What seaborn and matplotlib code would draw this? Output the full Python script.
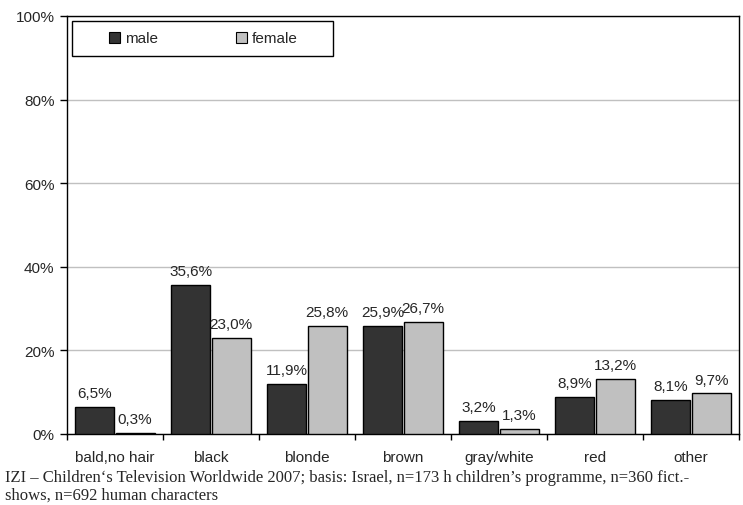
import matplotlib
matplotlib.use("Agg")
import matplotlib.pyplot as plt
import matplotlib.patches as mpatches
import seaborn as sns
import pandas as pd

categories = ["bald,no hair", "black", "blonde", "brown", "gray/white", "red", "other"]
male = [6.5, 35.6, 11.9, 25.9, 3.2, 8.9, 8.1]
female = [0.3, 23.0, 25.8, 26.7, 1.3, 13.2, 9.7]
series = ["male", "female"]
colors = {"male": "#333333", "female": "#c0c0c0"}
yticks = [0, 20, 40, 60, 80, 100]
caption_lines = [
    "IZI \u2013 Children\u2018s Television Worldwide 2007; basis: Israel, n=173 h children\u2019s programme, n=360 fict.-",
    "shows, n=692 human characters",
]

df = pd.DataFrame({
    "category": categories * 2,
    "value": male + female,
    "gender": ["male"] * len(categories) + ["female"] * len(categories),
})

sns.set_theme(style="white")
plt.rcParams['font.family'] = ['Liberation Sans', 'DejaVu Sans']
FS = 11

fig = plt.figure(figsize=(7.43, 5.06), dpi=100)
ax = fig.add_axes([67/743, 1 - 435/506, 672/743, 418/506])

sns.barplot(data=df, x="category", y="value", hue="gender", hue_order=series,
            order=categories, palette=colors, width=0.84, gap=0.04,
            edgecolor="black", linewidth=1.0, ax=ax, zorder=3)

ax.set_xlim(-0.5, len(categories) - 0.5)
ax.set_ylim(0, 100)
ax.set_yticks(yticks)
ax.set_yticklabels([f"{t}%" for t in yticks], fontsize=FS)
ax.yaxis.grid(True, color="#c0c0c0", linewidth=1.0, zorder=0)
ax.set_axisbelow(True)
ax.set_xlabel("")
ax.set_ylabel("")

# x ticks at category boundaries, labels at centres
ax.set_xticks([i - 0.5 for i in range(len(categories) + 1)])
ax.set_xticklabels([])
ax.set_xticks(range(len(categories)), minor=True)
ax.set_xticklabels(categories, minor=True, fontsize=FS)
ax.tick_params(axis="x", which="major", direction="out", length=4, width=1, color="black", bottom=True)
ax.tick_params(axis="x", which="minor", length=0, pad=11.2)
ax.tick_params(axis="y", direction="out", length=5, width=1, color="black", left=True, pad=4)

for s in ax.spines.values():
    s.set_visible(True)
    s.set_color("black")
    s.set_linewidth(1.0)

for cont in ax.containers:
    labels = [f"{v:.1f}%".replace(".", ",") for v in cont.datavalues]
    ax.bar_label(cont, labels=labels, padding=5, fontsize=FS)

# legend: frame box drawn separately, entries placed inside
box = mpatches.Rectangle((5/672, 1 - 40/418), 261/672, 35/418, transform=ax.transAxes,
                         facecolor="white", edgecolor="black", linewidth=1.0, zorder=5)
ax.add_patch(box)
leg = ax.legend(loc="center left", bbox_to_anchor=(42/672, 1 - 22.5/418),
                ncol=2, frameon=False, fontsize=FS,
                handlelength=0.75, handleheight=0.75, handletextpad=0.3,
                borderaxespad=0, borderpad=0, columnspacing=5.1)
leg.set_zorder(6)
for h in leg.legend_handles:
    h.set_edgecolor("black")
    h.set_linewidth(0.8)

for line, ybase in zip(caption_lines, [482, 500]):
    fig.text(5/743, 1 - ybase/506, line, fontsize=12,
             family=['Liberation Serif', 'DejaVu Serif'], va="baseline", ha="left")

fig.savefig("out.png", dpi=100)
